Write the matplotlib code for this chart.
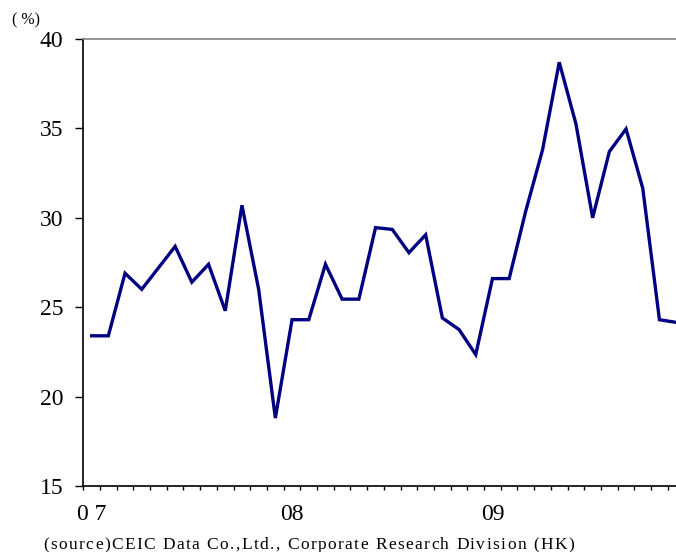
import matplotlib
matplotlib.use("Agg")
import matplotlib.pyplot as plt
import numpy as np
from matplotlib.textpath import TextPath
from matplotlib.font_manager import FontProperties

# Monthly series Jan 2007 - Dec 2009 (%)
values = [23.4, 23.4, 26.9, 26.0, 27.2, 28.4, 26.4, 27.4, 24.8, 30.7, 26.0, 18.8,
          24.3, 24.3, 27.4, 25.45, 25.45, 29.45, 29.35, 28.05, 29.05, 24.4, 23.75, 22.35,
          26.6, 26.6, 30.4, 33.8, 38.7, 35.25, 30.0, 33.7, 34.97, 31.65, 24.3, 24.15]
year_labels = ["0 7", "08", "09"]
year_positions = [0, 12, 24]
yticks = [15, 20, 25, 30, 35, 40]
source_text = "(source)CEIC Data Co.,Ltd., Corporate Research Division (HK)"
unit_text = "( %)"

W, H, DPI = 676, 552, 100
fig = plt.figure(figsize=(W / DPI, H / DPI), dpi=DPI)
serif = ["Liberation Serif", "DejaVu Serif"]
plt.rcParams['font.family'] = serif

left_px, right_px, top_px, bot_px = 83.3, 83.3 + 36 * 16.7, 39, 486
ax = fig.add_axes([left_px / W, (H - bot_px) / H, (right_px - left_px) / W, (bot_px - top_px) / H])

x = np.arange(len(values))
ax.plot(x, values, color="#000080", lw=2.4, solid_joinstyle="miter")

ax.set_xlim(-0.5, len(values) - 0.5)
ax.set_ylim(15, 40)
ax.set_yticks(yticks)
ax.set_yticklabels([str(v) for v in yticks], fontsize=17)
ax.tick_params(axis="y", direction="out", length=6, width=1, pad=8.5, colors="black")

ax.set_xticks(year_positions)
ax.set_xticklabels(year_labels, fontsize=17)
ax.set_xticks(np.arange(-0.5, len(values) + 0.5, 1), minor=True)
ax.tick_params(axis="x", which="major", length=0, pad=13)
ax.tick_params(axis="x", which="minor", direction="out", length=3.2, width=1)

for s in ["left", "bottom"]:
    ax.spines[s].set_color("black")
    ax.spines[s].set_linewidth(1.2)
ax.spines["top"].set_color("#808080")
ax.spines["top"].set_linewidth(1.2)
ax.spines["right"].set_visible(False)

fig.text(12 / W, 1 - 20 / H, unit_text, fontsize=11.5, va="center", ha="left")

# source line with letter spacing
fs = 12.5
fp = FontProperties(family="Liberation Serif", size=fs)
widths = []
for ch in source_text:
    if ch == " ":
        w = TextPath((0, 0), "a a", prop=fp).get_extents().width - TextPath((0, 0), "aa", prop=fp).get_extents().width
    else:
        w = TextPath((0, 0), "a" + ch + "a", prop=fp).get_extents().width - TextPath((0, 0), "aa", prop=fp).get_extents().width
    widths.append(w * DPI / 72)
x0, x1 = 43, 574
extra = ((x1 - x0) - sum(widths)) / (len(source_text) - 1)
cx = x0
for ch, w in zip(source_text, widths):
    fig.text(cx / W, 1 - 545 / H, ch, fontsize=fs, va="center", ha="left")
    cx += w + extra

fig.savefig("out.png", dpi=DPI)
